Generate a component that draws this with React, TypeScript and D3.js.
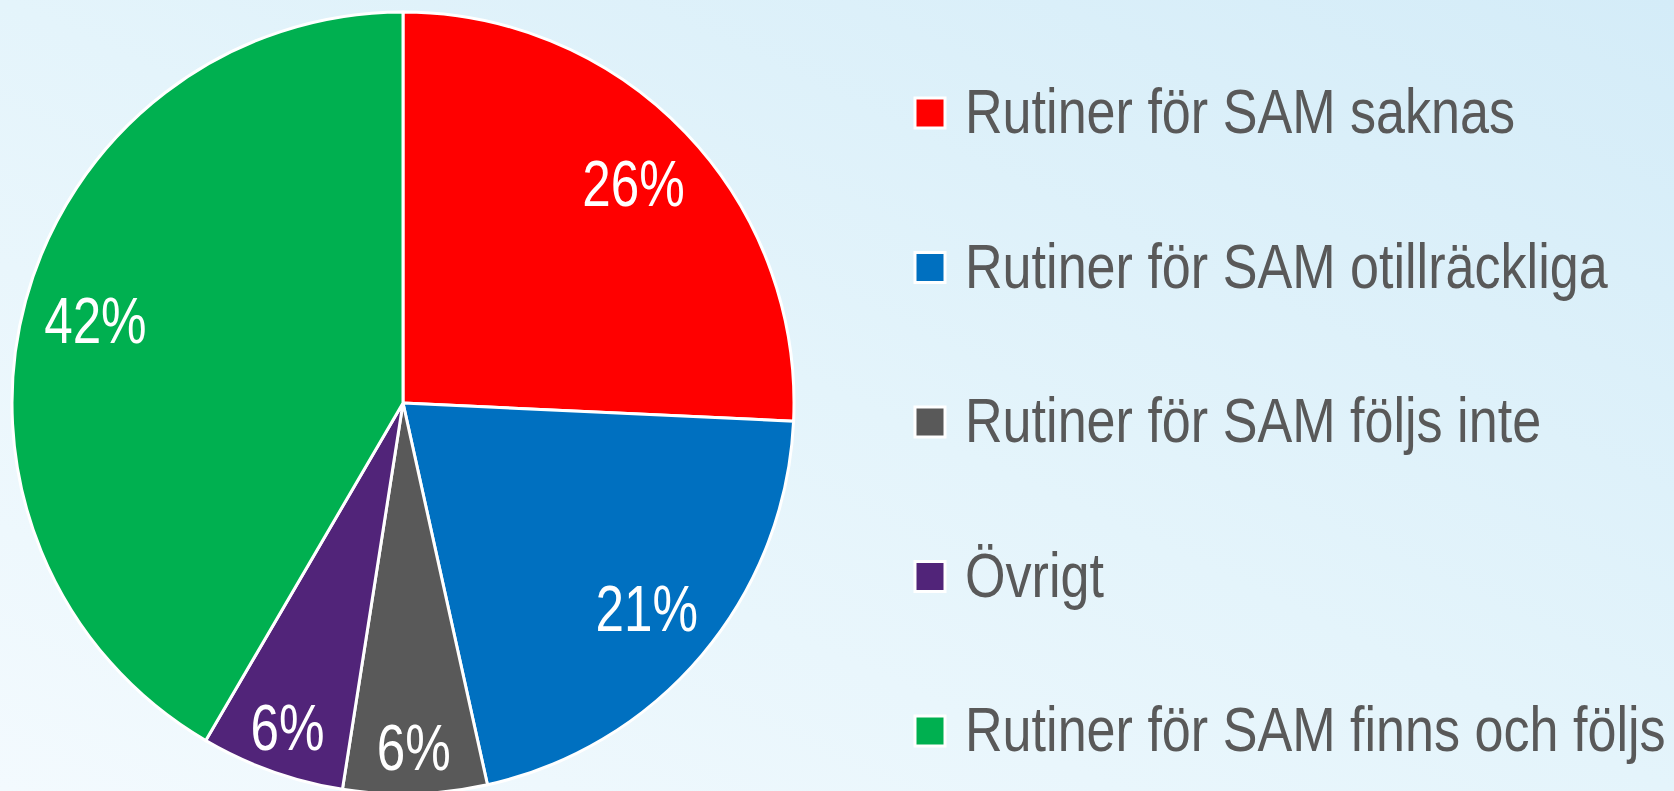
import React from "react";
import * as d3 from "d3";

const categories = [
  "Rutiner för SAM saknas",
  "Rutiner för SAM otillräckliga",
  "Rutiner för SAM följs inte",
  "Övrigt",
  "Rutiner för SAM finns och följs",
];
const values = [26, 21, 6, 6, 42];
const colors = ["#FF0000", "#0070C0", "#595959", "#512479", "#00B050"];

const W = 1674;
const H = 791;
const CX = 403;
const CY = 403;
const R = 391;
const FONT = "'Liberation Sans Narrow', 'Arial Narrow', 'Liberation Sans', Arial, sans-serif";
const SX = 0.827;

export default function App() {
  React.useEffect(() => {
    document.body.style.margin = "0";
  }, []);
  const total = d3.sum(values);
  const pie = d3
    .pie<number>()
    .sort(null)
    .value((d) => d)
    .startAngle(0)
    .endAngle(2 * Math.PI);
  const arcs = pie(values);
  const arc = d3.arc<d3.PieArcDatum<number>>().innerRadius(0).outerRadius(R);
  const fmt = d3.format(".0%");

  const legendY = d3
    .scalePoint<number>()
    .domain(d3.range(categories.length))
    .range([113, 731]);

  return (
    <svg
      width={W}
      height={H}
      style={{ position: "absolute", left: 0, top: 0, display: "block" }}
    >
      <defs>
        <linearGradient id="bg" x1="0" y1="1" x2="1" y2="0">
          <stop offset="0" stopColor="#F3FAFE" />
          <stop offset="0.5" stopColor="#E4F4FB" />
          <stop offset="1" stopColor="#D4ECF8" />
        </linearGradient>
      </defs>
      <rect x={0} y={0} width={W} height={H} fill="url(#bg)" />
      <g transform={`translate(${CX},${CY})`}>
        {arcs.map((a, i) => (
          <path
            key={i}
            d={arc(a) || ""}
            fill={colors[i]}
            stroke="#FFFFFF"
            strokeWidth={3}
            strokeLinejoin="round"
          />
        ))}
        {arcs.map((a, i) => {
          const frac = values[i] / total;
          const rr = frac < 0.1 ? 0.88 * R : 0.815 * R;
          const mid = (a.startAngle + a.endAngle) / 2;
          const x = Math.sin(mid) * rr;
          const y = -Math.cos(mid) * rr;
          const fs = 64;
          return (
            <text
              key={"l" + i}
              transform={`translate(${x},${y + fs * 0.36}) scale(0.8,1)`}
              textAnchor="middle"
              fill="#FFFFFF"
              fontFamily={FONT}
              fontSize={fs}
            >
              {fmt(frac)}
            </text>
          );
        })}
      </g>
      <g>
        {categories.map((c, i) => {
          const y = legendY(i) as number;
          return (
            <g key={"lg" + i}>
              <rect
                x={915}
                y={y - 15}
                width={30}
                height={30}
                fill={colors[i]}
                stroke="#FFFFFF"
                strokeWidth={3}
              />
              <text
                transform={`translate(965,${y + 20}) scale(${SX},1)`}
                fill="#595959"
                fontFamily={FONT}
                fontSize={63}
              >
                {c}
              </text>
            </g>
          );
        })}
      </g>
    </svg>
  );
}
